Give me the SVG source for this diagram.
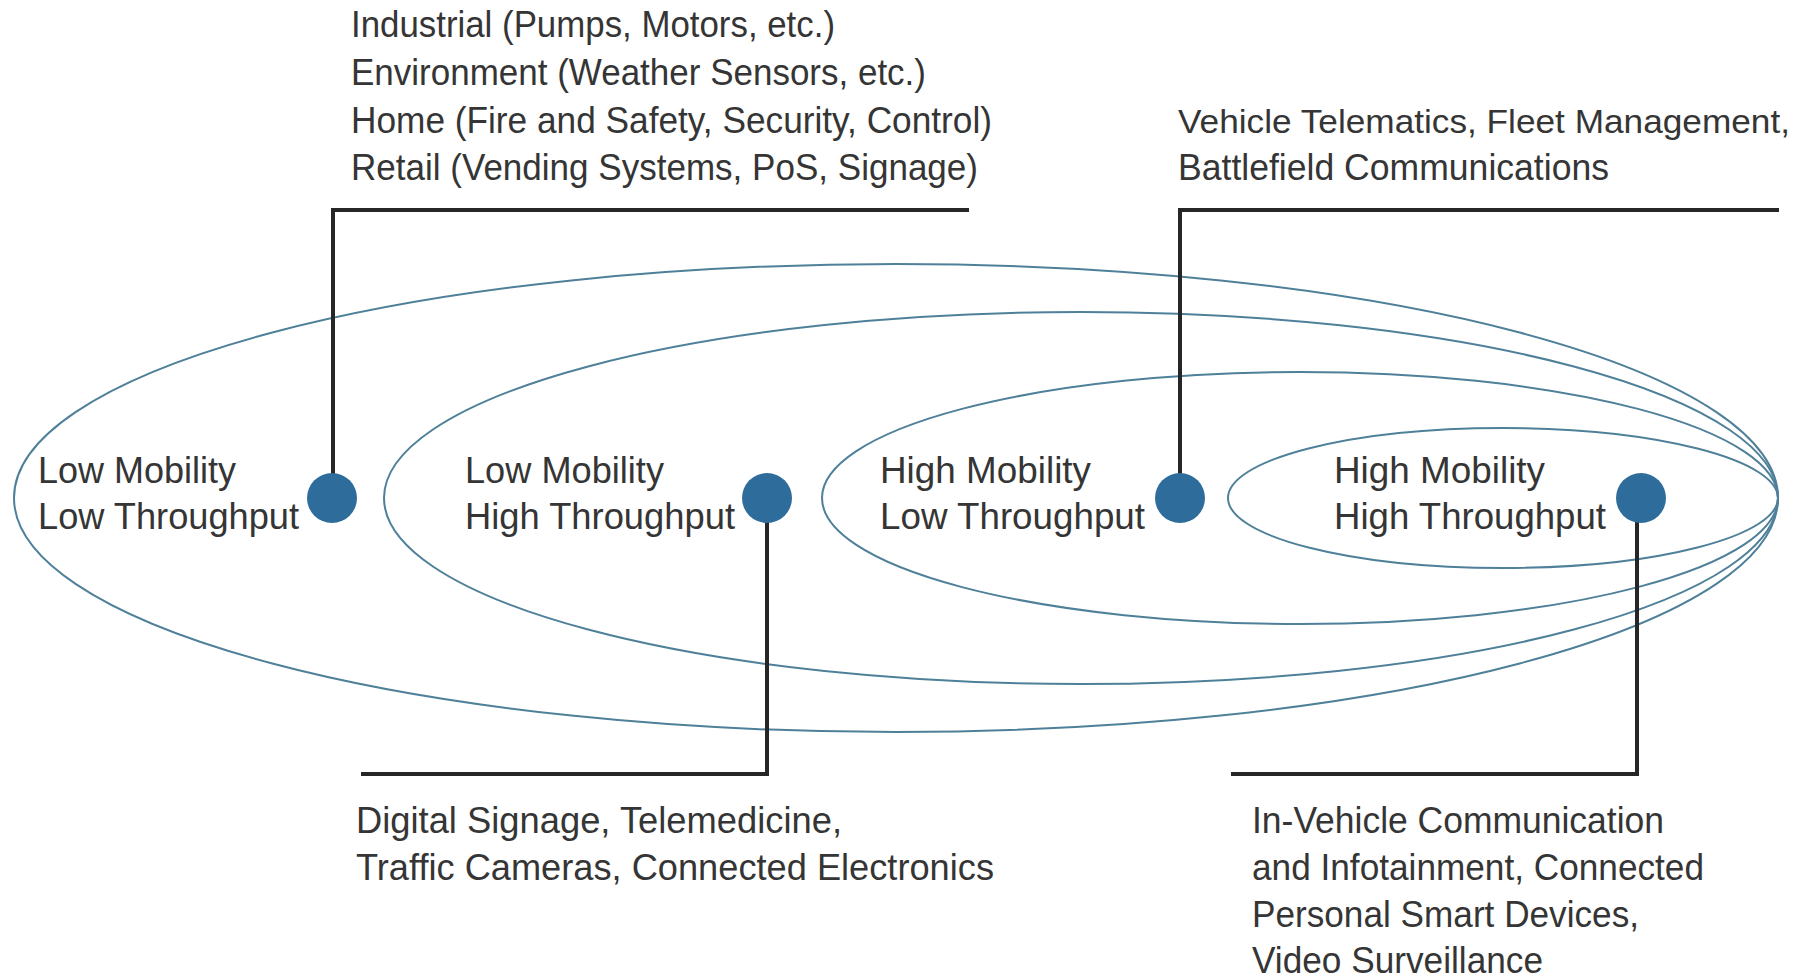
<svg xmlns="http://www.w3.org/2000/svg" width="1808" height="980" viewBox="0 0 1808 980">
<style>
.bg{fill:#ffffff}
.ring{fill:none;stroke:#4f8099;stroke-width:2}
.dot{fill:#2e6c9b}
.lead{fill:none;stroke:#262626;stroke-width:4;stroke-linejoin:miter}
text{font-family:"Liberation Sans",Arial,sans-serif;fill:#353535}
.lbl{font-size:37px}
.note{font-size:37px}
.fit{font-size:34px}
</style>
<rect class="bg" x="0" y="0" width="1808" height="980"/>
<g id="ellipses">
<ellipse id="ring-lmlt" class="ring" cx="896" cy="498" rx="882" ry="234"/>
<ellipse id="ring-lmht" class="ring" cx="1081" cy="498" rx="697" ry="186"/>
<ellipse id="ring-hmlt" class="ring" cx="1300" cy="498" rx="478" ry="126"/>
<ellipse id="ring-hmht" class="ring" cx="1503" cy="498" rx="275" ry="70"/>
</g>
<g id="connectors">
<polyline class="lead" points="333,498 333,210 969,210"/>
<polyline class="lead" points="1180,498 1180,210 1779,210"/>
<polyline class="lead" points="767,498 767,774 361,774"/>
<polyline class="lead" points="1637,498 1637,774 1231,774"/>
</g>
<g id="node-lmlt">
<circle class="dot" cx="332" cy="498" r="25"/>
<text class="lbl" x="38" y="483" textLength="198" lengthAdjust="spacingAndGlyphs">Low Mobility</text>
<text class="lbl" x="38" y="529" textLength="261" lengthAdjust="spacingAndGlyphs">Low Throughput</text>
</g>
<g id="node-lmht">
<circle class="dot" cx="767" cy="498" r="25"/>
<text class="lbl" x="465" y="483" textLength="199" lengthAdjust="spacingAndGlyphs">Low Mobility</text>
<text class="lbl" x="465" y="529" textLength="270" lengthAdjust="spacingAndGlyphs">High Throughput</text>
</g>
<g id="node-hmlt">
<circle class="dot" cx="1180" cy="498" r="25"/>
<text class="lbl" x="880" y="483" textLength="211" lengthAdjust="spacingAndGlyphs">High Mobility</text>
<text class="lbl" x="880" y="529" textLength="265" lengthAdjust="spacingAndGlyphs">Low Throughput</text>
</g>
<g id="node-hmht">
<circle class="dot" cx="1641" cy="498" r="25"/>
<text class="lbl" x="1334" y="483" textLength="211" lengthAdjust="spacingAndGlyphs">High Mobility</text>
<text class="lbl" x="1334" y="529" textLength="272" lengthAdjust="spacingAndGlyphs">High Throughput</text>
</g>
<g id="note-lmlt">
<text class="note" x="351" y="37" textLength="484" lengthAdjust="spacingAndGlyphs">Industrial (Pumps, Motors, etc.)</text>
<text class="note" x="351" y="85" textLength="575" lengthAdjust="spacingAndGlyphs">Environment (Weather Sensors, etc.)</text>
<text class="note" x="351" y="133" textLength="641" lengthAdjust="spacingAndGlyphs">Home (Fire and Safety, Security, Control)</text>
<text class="note" x="351" y="180" textLength="627" lengthAdjust="spacingAndGlyphs">Retail (Vending Systems, PoS, Signage)</text>
</g>
<g id="note-hmlt">
<text class="fit" x="1178" y="133" textLength="612" lengthAdjust="spacingAndGlyphs">Vehicle Telematics, Fleet Management,</text>
<text class="note" x="1178" y="180" textLength="431" lengthAdjust="spacingAndGlyphs">Battlefield Communications</text>
</g>
<g id="note-lmht">
<text class="note" x="356" y="833" textLength="486" lengthAdjust="spacingAndGlyphs">Digital Signage, Telemedicine,</text>
<text class="note" x="356" y="880" textLength="638" lengthAdjust="spacingAndGlyphs">Traffic Cameras, Connected Electronics</text>
</g>
<g id="note-hmht">
<text class="note" x="1252" y="833" textLength="412" lengthAdjust="spacingAndGlyphs">In-Vehicle Communication</text>
<text class="note" x="1252" y="880" textLength="452" lengthAdjust="spacingAndGlyphs">and Infotainment, Connected</text>
<text class="note" x="1252" y="927" textLength="387" lengthAdjust="spacingAndGlyphs">Personal Smart Devices,</text>
<text class="note" x="1252" y="973" textLength="291" lengthAdjust="spacingAndGlyphs">Video Surveillance</text>
</g>
</svg>
